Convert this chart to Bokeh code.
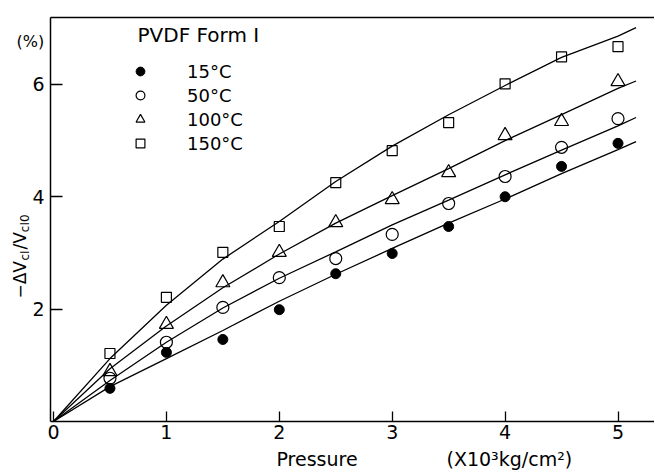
import math
from bokeh.plotting import figure
from bokeh.models import Range1d, LinearAxis, FixedTicker, Label, Legend, LegendItem
from bokeh.embed import file_html
from bokeh.resources import INLINE

# ---- data ----
pressure = [0.5, 1.0, 1.5, 2.0, 2.5, 3.0, 3.5, 4.0, 4.5, 5.0]
v15 = [0.59, 1.23, 1.46, 1.99, 2.63, 2.99, 3.47, 4.00, 4.54, 4.95]
v50 = [0.77, 1.41, 2.03, 2.56, 2.90, 3.33, 3.88, 4.36, 4.88, 5.39]
v100 = [0.89, 1.73, 2.47, 3.01, 3.54, 3.95, 4.43, 5.09, 5.34, 6.05]
v150 = [1.21, 2.21, 3.01, 3.47, 4.25, 4.82, 5.32, 6.01, 6.49, 6.67]

curve_p = [0.0, 0.5, 1.0, 1.5, 2.0, 2.5, 3.0, 3.5, 4.0, 4.5, 5.0, 5.16]
c15 = [0.0, 0.62, 1.12, 1.62, 2.14, 2.62, 3.08, 3.53, 3.96, 4.41, 4.84, 4.98]
c50 = [0.0, 0.73, 1.41, 2.02, 2.55, 3.02, 3.50, 3.94, 4.39, 4.83, 5.26, 5.41]
c100 = [0.0, 0.94, 1.70, 2.38, 2.98, 3.53, 4.02, 4.50, 5.00, 5.46, 5.93, 6.06]
c150 = [0.0, 1.12, 2.07, 2.89, 3.56, 4.27, 4.90, 5.46, 5.98, 6.48, 6.86, 7.01]

series_labels = ["15°C", "50°C", "100°C", "150°C"]
x_ticks = [0, 1, 2, 3, 4, 5]
y_ticks = [2, 4, 6]

FONT = "DejaVu Sans"

# ---- layout geometry (page pixels) ----
W, H = 654, 470
OFF = 1            # canvas offset on the page
X0_PX, PPU_X = 54.0, 112.9   # page x of pressure 0, px per unit
Y0_PX, PPU_Y = 422.0, 56.19  # page y of value 0, px per unit


def dx(px):
    return (px - X0_PX) / PPU_X


def dy(py):
    return (Y0_PX - py) / PPU_Y


x_start = dx(OFF)
x_end = dx(OFF + W)
y_end = dy(OFF)
y_start = dy(OFF + H)

axis_left = dx(51)      # left axis position
axis_top = dy(18)       # top border position
axis_right = dx(655)

p = figure(width=W, height=H,
           x_range=Range1d(x_start, x_end), y_range=Range1d(y_start, y_end),
           output_backend="svg", toolbar_location=None,
           min_border_left=0, min_border_right=0,
           min_border_top=0, min_border_bottom=0)
p.outline_line_color = None
p.grid.visible = False
p.xaxis.visible = False
p.yaxis.visible = False
p.background_fill_color = "white"


def style_axis(a):
    a.minor_tick_in = 0
    a.minor_tick_out = 0
    a.axis_line_width = 1.5
    a.axis_line_color = "black"
    a.major_tick_line_width = 1.3
    a.major_tick_line_color = "black"
    a.major_label_text_font = FONT
    a.major_label_text_font_size = "19px"
    a.major_label_text_color = "black"


xa = LinearAxis(ticker=FixedTicker(ticks=x_ticks), fixed_location=0,
                bounds=(axis_left, axis_right), major_tick_in=10, major_tick_out=0,
                major_label_standoff=3)
style_axis(xa)
p.add_layout(xa, "below")

ya = LinearAxis(ticker=FixedTicker(ticks=y_ticks), fixed_location=axis_left,
                bounds=(0, axis_top), major_tick_in=12, major_tick_out=0,
                major_label_standoff=6)
style_axis(ya)
p.add_layout(ya, "left")

top = LinearAxis(ticker=FixedTicker(ticks=[]), fixed_location=axis_top,
                 bounds=(axis_left, axis_right),
                 major_label_text_font_size="0px",
                 major_tick_in=0, major_tick_out=0, minor_tick_in=0, minor_tick_out=0,
                 major_label_standoff=0, axis_line_width=1.5)
p.add_layout(top, "above")

# curves
for cy in (c15, c50, c100, c150):
    p.line(curve_p, cy, line_color="black", line_width=1.3)

# points
r15 = p.scatter(pressure, v15, marker="circle", size=10, fill_color="black", line_color="black")
r50 = p.scatter(pressure, v50, marker="circle", size=12, fill_color=None, line_color="black", line_width=1.2)
r100 = p.scatter(pressure, v100, marker="triangle", size=14, fill_color=None, line_color="black", line_width=1.2)
r150 = p.scatter(pressure, v150, marker="square", size=10, fill_color=None, line_color="black", line_width=1.2)

legend = Legend(items=[LegendItem(label=lab, renderers=[r]) for lab, r in
                       zip(series_labels, (r15, r50, r100, r150))],
                location=(130 - OFF, (OFF + H) - 155), padding=0, margin=0, spacing=2,
                glyph_width=22, glyph_height=22, label_height=22,
                label_standoff=36, label_text_color="black",
                label_text_font=FONT, label_text_font_size="18px",
                border_line_color=None, background_fill_alpha=0)
p.add_layout(legend)

# legend heading
p.add_layout(Label(x=dx(138), y=dy(35), text="PVDF Form I", text_font=FONT,
                   text_color="black",
                   text_font_size="20px", text_baseline="middle", text_align="left"))

# (%) unit label
p.add_layout(Label(x=dx(17), y=dy(42), text="(%)", text_font=FONT,
                   text_color="black",
                   text_font_size="16px", text_baseline="middle", text_align="left"))

# x-axis label pieces
p.add_layout(Label(x=dx(277), y=dy(459), text="Pressure", text_font=FONT,
                   text_color="black",
                   text_font_size="19px", text_baseline="middle", text_align="left"))
p.add_layout(Label(x=dx(447), y=dy(459), text="(X10³kg/cm²)", text_font=FONT,
                   text_color="black",
                   text_font_size="19px", text_baseline="middle", text_align="left"))

# y-axis label (rotated, with subscripts)
pieces = [("−ΔV", 0.0, "17px", 0),
          ("cI", 38.0, "12px", 5),
          ("/V", 49.0, "17px", 0),
          ("cI0", 66.3, "12px", 5)]
for txt, off, fs, sub in pieces:
    p.add_layout(Label(x=dx(20 + sub), y=dy(299 - off), text=txt, text_font=FONT,
                       text_color="black",
                       text_font_size=fs, angle=math.pi / 2, angle_units="rad",
                       text_baseline="middle", text_align="left"))

open("out.html", "w").write(file_html(p, INLINE))
